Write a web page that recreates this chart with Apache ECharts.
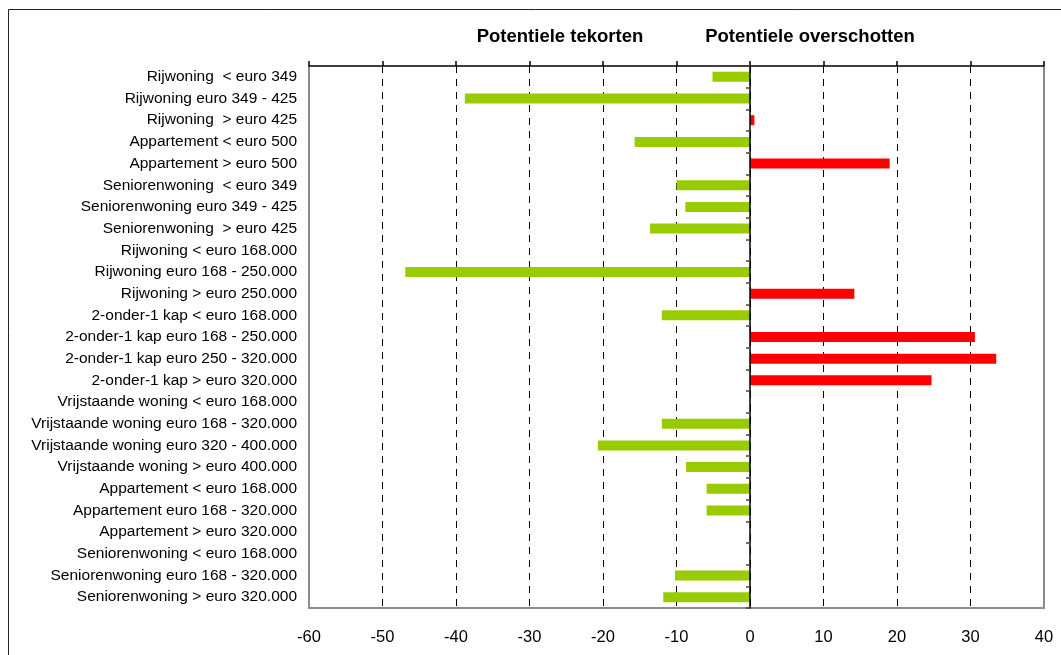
<!DOCTYPE html>
<html>
<head>
<meta charset="utf-8">
<script src="https://cdn.jsdelivr.net/npm/echarts@6/dist/echarts.min.js"></script>
<style>
  html, body { margin: 0; padding: 0; background: #fff; }
  #chart { width: 1061px; height: 655px; }
</style>
</head>
<body>
<div id="chart"></div>
<script>
// Woningtypen en prijsklassen
const categories = [
  'Rijwoning  < euro 349',
  'Rijwoning euro 349 - 425',
  'Rijwoning  > euro 425',
  'Appartement < euro 500',
  'Appartement > euro 500',
  'Seniorenwoning  < euro 349',
  'Seniorenwoning euro 349 - 425',
  'Seniorenwoning  > euro 425',
  'Rijwoning < euro 168.000',
  'Rijwoning euro 168 - 250.000',
  'Rijwoning > euro 250.000',
  '2-onder-1 kap < euro 168.000',
  '2-onder-1 kap euro 168 - 250.000',
  '2-onder-1 kap euro 250 - 320.000',
  '2-onder-1 kap > euro 320.000',
  'Vrijstaande woning < euro 168.000',
  'Vrijstaande woning euro 168 - 320.000',
  'Vrijstaande woning euro 320 - 400.000',
  'Vrijstaande woning > euro 400.000',
  'Appartement < euro 168.000',
  'Appartement euro 168 - 320.000',
  'Appartement > euro 320.000',
  'Seniorenwoning < euro 168.000',
  'Seniorenwoning euro 168 - 320.000',
  'Seniorenwoning > euro 320.000'
];

// Negatief = potentieel tekort, positief = potentieel overschot
const values = [
  -5.1, -38.8, 0.6, -15.7, 19.0,
  -10.0, -8.8, -13.6, 0, -46.9,
  14.2, -12.0, 30.6, 33.5, 24.7,
  0, -12.0, -20.7, -8.7, -5.9,
  -5.9, 0, 0, -10.2, -11.8
];

const xTicks = { min: -60, max: 40, interval: 10 };
const headings = ['Potentiele tekorten', 'Potentiele overschotten'];

const FONT = '"Liberation Sans", Arial, sans-serif';
const GREEN = '#99CC00';
const RED = '#FF0000';
const BORDER = '#8c8c8c';

const chart = echarts.init(document.getElementById('chart'), null, { renderer: 'canvas' });

const catAxisBase = {
  type: 'category',
  data: categories,
  inverse: true,
  boundaryGap: true
};

chart.setOption({
  animation: false,
  backgroundColor: '#ffffff',
  grid: { left: 309, right: 17, top: 66, bottom: 47 },
  graphic: [
    {
      type: 'rect',
      shape: { x: 8.5, y: 9.5, width: 1100, height: 700 },
      style: { fill: 'none', stroke: '#222', lineWidth: 1 },
      silent: true, z: -10
    },
    {
      type: 'text', x: 560, y: 37,
      style: { text: headings[0], font: 'bold 18.5px ' + FONT, fill: '#000', textAlign: 'center', textVerticalAlign: 'middle' }
    },
    {
      type: 'text', x: 810, y: 37,
      style: { text: headings[1], font: 'bold 18.5px ' + FONT, fill: '#000', textAlign: 'center', textVerticalAlign: 'middle' }
    }
  ],
  xAxis: [
    {
      type: 'value', position: 'bottom',
      min: xTicks.min, max: xTicks.max, interval: xTicks.interval,
      z: 1,
      axisLine: { show: true, onZero: false, lineStyle: { color: BORDER, width: 2 } },
      axisTick: { show: false },
      axisLabel: { color: '#000', fontSize: 16.5, fontFamily: FONT, margin: 21 },
      splitLine: { show: true, lineStyle: { color: '#000', width: 1, type: [7, 6] } }
    },
    {
      type: 'value', position: 'top',
      min: xTicks.min, max: xTicks.max, interval: xTicks.interval,
      z: 3,
      axisLine: { show: true, onZero: false, lineStyle: { color: '#000', width: 1.5 } },
      axisTick: { show: true, inside: false, length: 5, lineStyle: { color: '#000', width: 1.5 } },
      axisLabel: { show: false },
      splitLine: { show: false }
    }
  ],
  yAxis: [
    Object.assign({}, catAxisBase, {
      position: 'left', z: 3,
      axisLine: { show: true, onZero: false, lineStyle: { color: BORDER, width: 2 } },
      axisTick: { show: false },
      axisLabel: { color: '#000', fontSize: 15.5, fontFamily: FONT, margin: 12, interval: 0 },
      splitLine: { show: false }
    }),
    Object.assign({}, catAxisBase, {
      position: 'right', z: 3,
      axisLine: { show: true, onZero: false, lineStyle: { color: BORDER, width: 2 } },
      axisTick: { show: false },
      axisLabel: { show: false },
      splitLine: { show: false }
    }),
    Object.assign({}, catAxisBase, {
      position: 'left', z: 4,
      axisLine: { show: true, onZero: true, lineStyle: { color: '#000', width: 1.5 } },
      axisTick: { show: true, length: 4, lineStyle: { color: '#444', width: 1.5 } },
      axisLabel: { show: false },
      splitLine: { show: false }
    })
  ],
  series: [
    {
      type: 'bar',
      xAxisIndex: 0,
      yAxisIndex: 0,
      barWidth: 10,
      z: 2,
      data: values,
      itemStyle: {
        color: function (p) { return p.value < 0 ? GREEN : RED; }
      }
    }
  ]
});
</script>
</body>
</html>
